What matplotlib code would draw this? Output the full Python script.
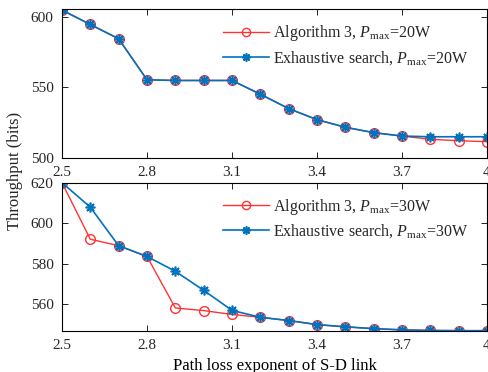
import numpy as np
import matplotlib.pyplot as plt

plt.rcParams['font.family'] = ['Liberation Serif']
plt.rcParams['mathtext.fontset'] = 'custom'
plt.rcParams['mathtext.rm'] = 'Liberation Serif'
plt.rcParams['mathtext.it'] = 'Liberation Serif:italic'
plt.rcParams['font.size'] = 11
plt.rcParams['text.color'] = '#262626'

# path loss exponent of S-D link
alpha = [2.5, 2.6, 2.7, 2.8, 2.9, 3.0, 3.1, 3.2, 3.3, 3.4, 3.5, 3.6, 3.7, 3.8, 3.9, 4.0]

# Pmax = 20W
alg_20 = [604.7, 594.5, 584.4, 555.4, 554.9, 554.9, 554.9, 545.2, 535.0, 527.2, 521.8, 518.0, 515.6, 513.3, 512.3, 511.6]
exh_20 = [604.7, 594.5, 584.4, 555.4, 554.9, 554.9, 554.9, 545.2, 535.0, 527.2, 521.8, 518.0, 515.6, 515.1, 515.1, 515.1]

# Pmax = 30W
alg_30 = [620.0, 592.1, 588.9, 583.6, 558.2, 556.9, 555.0, 553.6, 552.0, 550.0, 548.9, 548.0, 547.4, 547.1, 547.0, 547.0]
exh_30 = [620.0, 607.9, 588.9, 583.6, 576.3, 566.9, 557.0, 553.6, 552.0, 550.0, 548.9, 548.0, 547.4, 547.1, 547.0, 547.0]

red = '#FF3333'
blue = '#0072BD'
star = (8, 2, 0)  # matlab style asterisk

fig = plt.figure(figsize=(4.88, 3.72), dpi=100)
ax1 = fig.add_axes([0.127, 0.575, 0.871, 0.401])
ax2 = fig.add_axes([0.127, 0.110, 0.871, 0.399])

def style(ax):
    ax.tick_params(direction='in', top=True, right=True, length=4, width=0.6,
                   labelsize=11, pad=6, labelcolor='#262626')
    for s in ax.spines.values():
        s.set_linewidth(0.8)
    ax.set_xlim(2.5, 4.0)
    ax.set_xticks([2.5, 2.8, 3.1, 3.4, 3.7, 4.0])
    ax.set_xticklabels(['2.5', '2.8', '3.1', '3.4', '3.7', '4'])

def add_legend(ax):
    ax.legend(loc='upper right', frameon=False, fontsize=11.5, handlelength=2.9,
              bbox_to_anchor=(0.99, 1.0), labelspacing=0.35, handletextpad=0.25,
              markerscale=0.85)

ax1.plot(alpha, alg_20, '-o', color=red, lw=1, ms=7, mfc='none', mew=1,
         label=r'Algorithm 3, $P_{\mathrm{max}}$=20W')
ax1.plot(alpha, exh_20, '-', marker=star, color=blue, lw=1.2, ms=7, mew=1.2,
         label=r'Exhaustive search, $P_{\mathrm{max}}$=20W')
style(ax1)
ax1.set_ylim(500, 605.5)
ax1.set_yticks([500, 550, 600])
add_legend(ax1)

ax2.plot(alpha, alg_30, '-o', color=red, lw=1, ms=7, mfc='none', mew=1,
         label=r'Algorithm 3, $P_{\mathrm{max}}$=30W')
ax2.plot(alpha, exh_30, '-', marker=star, color=blue, lw=1.2, ms=7, mew=1.2,
         label=r'Exhaustive search, $P_{\mathrm{max}}$=30W')
style(ax2)
ax2.set_ylim(546.8, 620)
ax2.set_yticks([560, 580, 600, 620])
add_legend(ax2)
ax2.set_xlabel('Path loss exponent of S-D link', fontsize=12, labelpad=4)

fig.text(0.03, 0.54, 'Throughput (bits)', rotation=90, va='center', ha='center', fontsize=12)

fig.savefig('out.png', dpi=100)
